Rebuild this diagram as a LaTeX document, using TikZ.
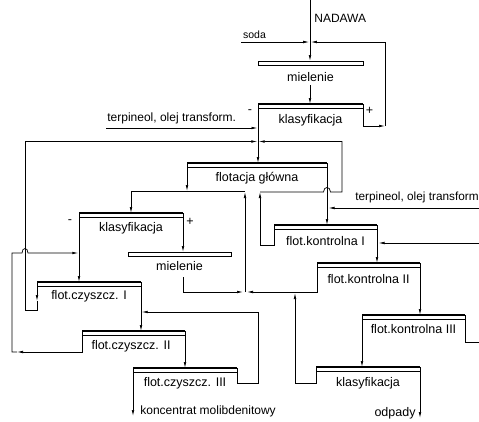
\documentclass[tikz,border=0pt]{standalone}
\usepackage{fontspec}
\setmainfont{Liberation Sans}
\usetikzlibrary{arrows.meta}
\begin{document}
\begin{tikzpicture}[x=1pt,y=-1pt,
  line width=0.7pt,
  arr/.style={-{Latex[length=6pt,width=2.6pt]}},
  bar/.style={draw, line width=0.7pt, fill=white, minimum height=4.5pt, inner sep=0pt, outer sep=0pt},
  lbl/.style={font=\fontsize{12.5}{14}\selectfont, inner sep=0pt, anchor=base},
  side/.style={font=\fontsize{12}{14}\selectfont, inner sep=0pt, anchor=base west},
  small/.style={font=\fontsize{10.5}{12}\selectfont, inner sep=0pt, anchor=base},
]
\useasboundingbox[fill=white] (0,0) rectangle (479,421);

% bars
\node[bar, minimum width=105pt] (mie1)  at (310.5,63.25) {};
\node[bar, minimum width=105pt] (klas1) at (310.5,106.25) {};
\node[bar, minimum width=140pt] (flotg) at (257,165.25) {};
\node[bar, minimum width=104pt] (klas2) at (131,215.25) {};
\node[bar, minimum width=103pt] (mie2)  at (179.5,254.25) {};
\node[bar, minimum width=103pt] (fk1)   at (325.5,227.25) {};
\node[bar, minimum width=103pt] (fk2)   at (368.5,265.25) {};
\node[bar, minimum width=103pt] (fk3)   at (413.5,317.25) {};
\node[bar, minimum width=104pt] (klas3) at (368,369.25) {};
\node[bar, minimum width=104pt] (fc1)   at (89,284.25) {};
\node[bar, minimum width=103pt] (fc2)   at (133.5,333.25) {};
\node[bar, minimum width=104pt] (fc3)   at (185,370.25) {};
\foreach \n in {klas1,flotg,klas2,fk1,fk2,fk3,klas3,fc1,fc2,fc3}
  \draw[line width=1.3pt] (\n.north west) -- (\n.north east);

% labels
\node[side] (tnad) at (314,22.5) {NADAWA};
\node[small] (tsoda) at (254.5,38.5) {soda};
\node[lbl] (tmie1) at (310.5,81.5) {mielenie};
\node[lbl] (tklas1) at (310.5,123) {klasyfikacja};
\node[lbl, anchor=center] (tm1) at (250,111.5) {-};
\node[lbl, anchor=center] (tp1s) at (369.5,111) {+};
\node[side] (tterp1) at (107,121.5) {terpineol, olej transform.};
\node[lbl] (tflotg) at (257,181) {flotacja główna};
\node[side, font=\fontsize{11.8}{14}\selectfont] (tterp2) at (355,200) {terpineol, olej transform};
\node[lbl] (tklas2) at (131,231) {klasyfikacja};
\node[lbl, anchor=center] (tm2) at (70,222) {-};
\node[lbl, anchor=center] (tp2s) at (190,221.5) {+};
\node[lbl] (tmie2) at (179.5,270) {mielenie};
\node[lbl] (tfk1) at (325.5,245) {flot.kontrolna I};
\node[lbl] (tfk2) at (368.5,283) {flot.kontrolna II};
\node[lbl] (tfk3) at (413.5,333) {flot.kontrolna III};
\node[lbl] (tklas3) at (368,386) {klasyfikacja};
\node[lbl] (todp) at (395,416) {odpady};
\node[lbl] (tfc1) at (89,299.5) {flot.czyszcz. I};
\node[lbl] (tfc2) at (131,349.5) {flot.czyszcz. II};
\node[lbl] (tfc3) at (185,386.5) {flot.czyszcz. III};
\node[side] (tkonc) at (140,414.5) {koncentrat molibdenitowy};

% coordinates
\coordinate (nad) at (310,0);
\coordinate (jn) at (310,42);
\coordinate (sodaS) at (241,42);
\coordinate (r1) at (385,126);
\coordinate (m1o) at (310,85);
\coordinate (tp1) at (106,128);
\coordinate (rb) at (260,245);
\coordinate (rc) at (260,192);
\coordinate (a1) at (187,191);
\coordinate (a2) at (245,191);
\coordinate (jB) at (245,292);
\coordinate (m2o) at (183,277);
\coordinate (k3a) at (295,383);
\coordinate (k3b) at (295,293);
\coordinate (rf) at (479,243);
\coordinate (rf2) at (378.5,243);
\coordinate (fk3o) at (479,342);
\coordinate (odp) at (420,418);
\coordinate (tp2) at (479,208);
\coordinate (tp2e) at (328.5,208);
\coordinate (c1a) at (37,301);
\coordinate (c2a) at (17,352);
\coordinate (fe1) at (257.3,141.5);
\coordinate (fe2) at (258.7,141.5);
\coordinate (k2in) at (78.3,253);
\coordinate (c3in) at (141.7,312);
\coordinate (konc) at (133,416);

% feed
\draw[arr] (nad) -- (nad |- mie1.north);
\draw[arr] (sodaS) -- ([xshift=-0.8pt]jn);
\draw[arr] (klas1.south east) |- (r1);
\draw[arr] (r1) |- ([xshift=0.8pt]jn);
\draw[arr] (m1o) -- (m1o |- klas1.north);
\draw[arr] (klas1.south west) -- (klas1.south west |- flotg.north);
\draw[arr] (tp1) -- ([xshift=-0.5pt]tp1 -| klas1.south west);

% return of flot.kontrolna I concentrate
\draw (fk1.south west) |- (rb);
\draw[arr] (rb) -- (rc);
\draw[arr] (rc) -- (323.5,192) .. controls (323.5,186) and (330.5,186) .. (330.5,192) -- (342,192) -- (342,141.5) -- (fe2);

% flotacja glowna concentrate to klasyfikacja 2
\draw[arr] (flotg.south west) -- (a1);
\draw[arr] (jB) -- ([yshift=-1pt]a2);
\draw[arr] (a2) -| (klas2.north);
\draw[arr] (klas2.south west) -- (klas2.south west |- fc1.north);
\draw[arr] (klas2.south east) -- (klas2.south east |- mie2.north);
\draw[arr] (m2o) |- ([xshift=-2pt]jB);
\draw[arr] (fk2.south west) |- ([xshift=2pt]jB);
\draw[arr] (klas3.south west) |- (k3a) -- (k3b);

% control flotation
\draw[arr] (flotg.south east) -- (flotg.south east |- fk1.north);
\draw[arr] (tp2) -- (tp2e);
\draw[arr] (fk1.south east) -- (fk1.south east |- fk2.north);
\draw[arr] (rf) -- (rf2);
\draw[arr] (fk2.south east) -- (fk2.south east |- fk3.north);
\draw (fk3.south east) |- (fk3o);
\draw[arr] (fk3.south west) -- (fk3.south west |- klas3.north);
\draw[arr] (klas3.south east) -- (odp);

% cleaning
\draw[arr] (fc1.south west) -- (c1a);
\draw[arr] (c1a) -- (37,310) -- (25,310) -- (25,141.5) -- (fe1);
\draw[arr] (fc2.south west) |- (c2a);
\draw[arr] (c2a) -- (12,352) -- (12,253) -- (22,253) .. controls (22,247) and (28,247) .. (28,253) -- (k2in);
\draw[arr] (fc1.south east) -- (fc1.south east |- fc2.north);
\draw[arr] (fc3.south east) |- (258,383) -- (258,312) -- (c3in);
\draw[arr] (fc2.south east) -- (fc2.south east |- fc3.north);
\draw[arr] (fc3.south west) -- (konc);
\end{tikzpicture}
\end{document}
